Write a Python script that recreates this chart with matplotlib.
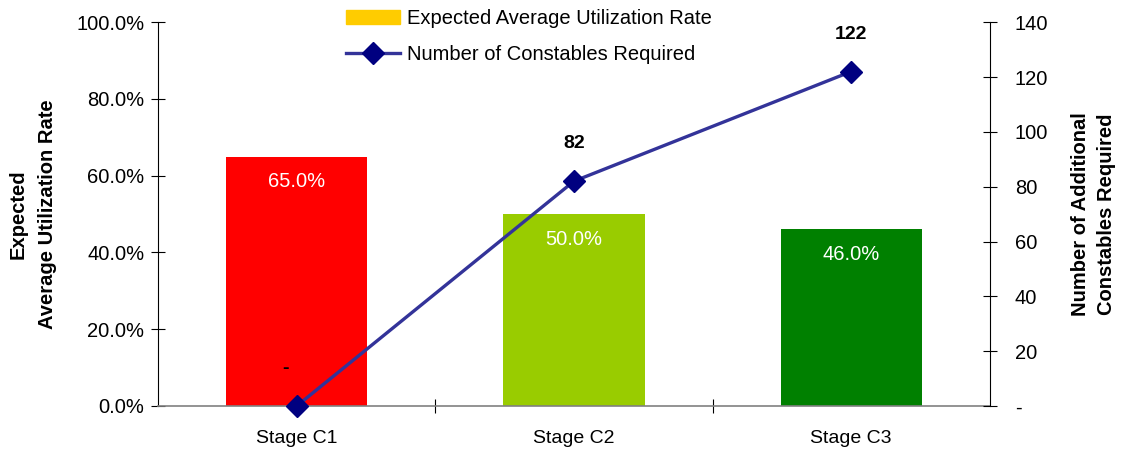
import matplotlib.pyplot as plt
from matplotlib.patches import Patch
from matplotlib.ticker import FuncFormatter, FixedLocator

plt.rcParams['font.family'] = ['Liberation Sans', 'DejaVu Sans']

stages = ['Stage C1', 'Stage C2', 'Stage C3']
utilization = [0.65, 0.50, 0.46]
constables = [0, 82, 122]
bar_colors = ['#FF0000', '#99CC00', '#008000']
line_labels = ['-', '82', '122']

fig = plt.figure(figsize=(11.21, 4.51), dpi=100)
ax = fig.add_axes([0.141, 0.0998, 0.742, 0.851])
ax2 = ax.twinx()

x = list(range(len(stages)))
ax.bar(x, utilization, width=0.51, color=bar_colors, zorder=2)

for xi, v in zip(x, utilization):
    ax.annotate(f'{v * 100:.1f}%', (xi, v), xytext=(0, -18), textcoords='offset points',
                ha='center', va='center', color='white', fontsize=14.5)

line, = ax2.plot(x, constables, color='#333399', lw=2.4, marker='D', markersize=11,
                 markerfacecolor='#000080', markeredgecolor='#000080',
                 label='Number of Constables Required', zorder=3, clip_on=False)
for xi, v, t in zip(x, constables, line_labels):
    dx = -8 if t == '-' else 0
    ax2.annotate(t, (xi, v), xytext=(dx, 27), textcoords='offset points',
                 ha='center', va='center', fontweight='bold', fontsize=14)

ax.set_xlim(-0.5, 2.5)
ax.set_ylim(0, 1.0)
ax2.set_ylim(0, 140)
ax.set_yticks([0, 0.2, 0.4, 0.6, 0.8, 1.0])
ax.yaxis.set_major_formatter(FuncFormatter(lambda v, p: f'{v * 100:.1f}%'))
ax2.set_yticks(range(0, 141, 20))
ax2.yaxis.set_major_formatter(FuncFormatter(lambda v, p: '-' if v == 0 else f'{int(v)}'))

ax.xaxis.set_major_locator(FixedLocator([0.5, 1.5]))
ax.xaxis.set_minor_locator(FixedLocator(x))
ax.set_xticklabels([], minor=False)
ax.set_xticklabels(stages, minor=True)
ax.tick_params(axis='x', which='major', direction='inout', length=10, width=0.8)
ax.tick_params(axis='x', which='minor', length=0, pad=17, labelsize=14)

for a in (ax, ax2):
    a.spines['top'].set_visible(False)
    a.tick_params(axis='y', direction='inout', length=10, width=0.8, labelsize=14.5)
ax.tick_params(axis='y', pad=5)
ax2.tick_params(axis='y', pad=13)
ax.spines['right'].set_visible(False)
ax2.spines['bottom'].set_visible(False)
ax.spines['bottom'].set_color('#808080')
ax.spines['bottom'].set_linewidth(1.2)
ax2.spines['left'].set_visible(False)

ax.set_ylabel('Expected\nAverage Utilization Rate', fontweight='bold', fontsize=14.5,
              labelpad=14, linespacing=1.65)
ax2.set_ylabel('Number of Additional\nConstables Required', fontweight='bold', fontsize=14.5,
               labelpad=16, linespacing=1.5)

handles = [Patch(color='#FFCC00', label='Expected Average Utilization Rate'), line]
ax.legend(handles, [h.get_label() for h in handles], loc='upper left',
          bbox_to_anchor=(0.216, 1.055), frameon=False, fontsize=14.5,
          handlelength=2.7, handleheight=0.7, labelspacing=0.85, handletextpad=0.35,
          borderaxespad=0)

fig.savefig('out.png', dpi=100)
